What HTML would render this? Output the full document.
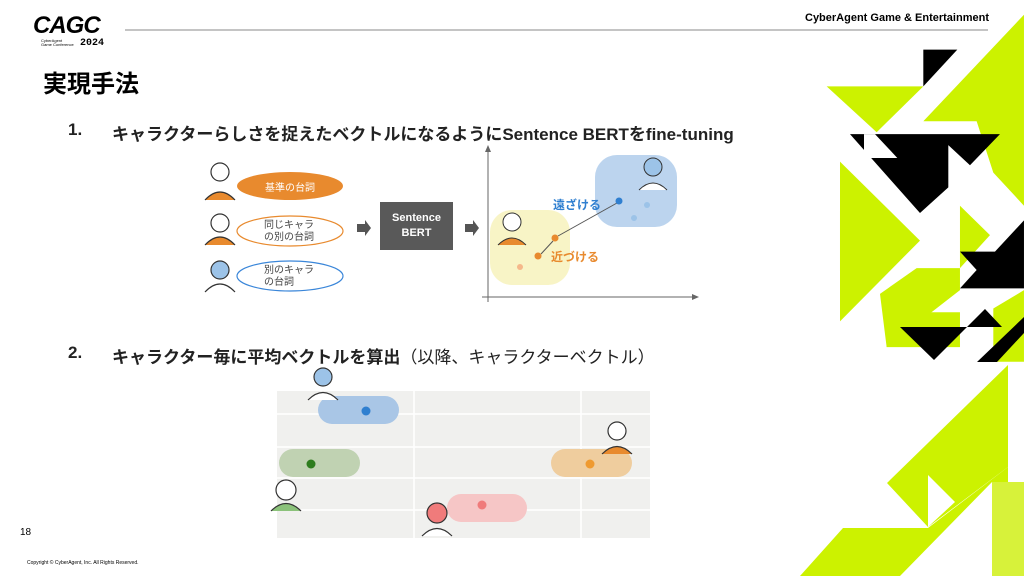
<!DOCTYPE html>
<html><head><meta charset="utf-8"><style>
body{margin:0;width:1024px;height:576px;overflow:hidden;background:#fff;font-family:"Liberation Sans","Noto Sans CJK JP",sans-serif;position:relative}
.a{position:absolute}
</style></head><body>
<svg class="a" style="left:0;top:0" width="1024" height="576">
<g transform="translate(760,0) scale(0.3333,0.3673)">
<polygon points="490,135 592,135 490,235" fill="#000"/>
<polygon points="200,235 490,235 350,360" fill="#ccf200"/>
<polygon points="490,330 792,40 792,560 700,470 650,330" fill="#ccf200"/>
<polygon points="270,365 720,365 630,450 565,395 565,510 480,580" fill="#000"/>
<polygon points="312,365 345,365 412,430 312,430" fill="#fff"/>
<polygon points="240,440 480,655 240,875" fill="#ccf200"/>
<polygon points="600,560 690,640 600,730" fill="#ccf200"/>
<polygon points="360,800 470,730 600,730 600,790 380,945" fill="#ccf200"/>
<polygon points="380,850 600,850 600,945 380,945" fill="#ccf200"/>
<polygon points="600,685 705,685 792,600 792,785 600,785 650,735" fill="#000"/>
<polygon points="700,840 792,790 792,985 700,985" fill="#ccf200"/>
</g>
<polygon points="900,327 967,327 934,360" fill="#000"/>
<polygon points="967,327 985,309 1002,327" fill="#000"/>
<polygon points="977,362 1024,317 1024,333 997,362" fill="#000"/>
<polygon points="887,483 1008,365 1008,467 928,527" fill="#ccf200"/>
<polygon points="800,576 843,528 928,528 1008,467 1008,482 992,482 900,576" fill="#ccf200"/>
<polygon points="928,475 955,502 928,527" fill="#fff"/>
<rect x="992" y="482" width="32" height="94" fill="#d7f23a"/>
<line x1="125" y1="30" x2="988" y2="30" stroke="#888" stroke-width="1"/>
<ellipse cx="290" cy="186" rx="53" ry="14" fill="#e88a2e"/>
<ellipse cx="290" cy="231" rx="53" ry="15" fill="#fff" stroke="#e88a2e" stroke-width="1.2"/>
<ellipse cx="290" cy="276" rx="53" ry="15" fill="#fff" stroke="#3a86d9" stroke-width="1.2"/>
<g fill="#fff" stroke="#333" stroke-width="1.2">
<circle cx="220" cy="172" r="9"/><path d="M205,200 q15,-16 30,0" fill="#e88a2e"/>
<circle cx="220" cy="223" r="9"/><path d="M205,245 q15,-16 30,0" fill="#e88a2e"/>
<circle cx="220" cy="270" r="9" fill="#9cc3e8"/><path d="M205,292 q15,-16 30,0"/>
</g>
<polygon points="357,224 365,224 365,220 371,228 365,236 365,232 357,232" fill="#555"/>
<rect x="380" y="202" width="73" height="48" fill="#595959"/>
<polygon points="465,224 473,224 473,220 479,228 473,236 473,232 465,232" fill="#555"/>
<line x1="488" y1="148" x2="488" y2="302" stroke="#666"/>
<polygon points="488,145 485,152 491,152" fill="#666"/>
<line x1="482" y1="297" x2="695" y2="297" stroke="#666"/>
<polygon points="699,297 692,294 692,300" fill="#666"/>
<rect x="490" y="210" width="80" height="75" rx="22" fill="#f8f4c6"/>
<rect x="595" y="155" width="82" height="72" rx="22" fill="#bcd4ee"/>
<circle cx="512" cy="222" r="9" fill="#fff" stroke="#333"/><path d="M498,245 q14,-14 28,0" fill="#e88a2e" stroke="#333"/>
<circle cx="653" cy="167" r="9" fill="#9cc3e8" stroke="#333"/><path d="M639,190 q14,-14 28,0" fill="#fff" stroke="#333"/>
<line x1="558" y1="236" x2="617" y2="203" stroke="#555"/>
<line x1="541" y1="254" x2="553" y2="241" stroke="#555"/>
<circle cx="555" cy="238" r="3.5" fill="#e88a2e"/><circle cx="538" cy="256" r="3.5" fill="#e88a2e"/>
<circle cx="520" cy="267" r="3" fill="#f5b88a"/>
<circle cx="619" cy="201" r="3.5" fill="#2f7fd0"/><circle cx="647" cy="205" r="3" fill="#9cc3e8"/><circle cx="634" cy="218" r="3" fill="#9cc3e8"/>
<rect x="277" y="391" width="373" height="147" fill="#f0f0ee"/>
<g stroke="#fff" stroke-width="1.5"><line x1="277" y1="414" x2="650" y2="414"/><line x1="277" y1="447" x2="650" y2="447"/><line x1="277" y1="478" x2="650" y2="478"/><line x1="277" y1="510" x2="650" y2="510"/><line x1="414" y1="391" x2="414" y2="538"/><line x1="581" y1="391" x2="581" y2="538"/></g>
<rect x="318" y="396" width="81" height="28" rx="14" fill="#a9c6e6"/><circle cx="366" cy="411" r="4.5" fill="#2f7fd0"/>
<rect x="279" y="449" width="81" height="28" rx="14" fill="#c0d2b2"/><circle cx="311" cy="464" r="4.5" fill="#2e7d1e"/>
<rect x="551" y="449" width="81" height="28" rx="14" fill="#efcd9e"/><circle cx="590" cy="464" r="4.5" fill="#ef9a30"/>
<rect x="447" y="494" width="80" height="28" rx="14" fill="#f6c6c6"/><circle cx="482" cy="505" r="4.5" fill="#f07b7b"/>
<g stroke="#333" stroke-width="1.2">
<circle cx="323" cy="377" r="9" fill="#9cc3e8"/><path d="M308,400 q15,-15 30,0" fill="#fff"/>
<circle cx="617" cy="431" r="9" fill="#fff"/><path d="M602,454 q15,-15 30,0" fill="#e88a2e"/>
<circle cx="286" cy="490" r="10" fill="#fff"/><path d="M271,511 q15,-15 30,0" fill="#8bc27a"/>
<circle cx="437" cy="513" r="10" fill="#f07b7b"/><path d="M422,536 q15,-15 30,0" fill="#fff"/>
</g>
</svg>
<div class="a" style="left:33px;top:12px;font:900 24px 'Liberation Sans',sans-serif;letter-spacing:-1px;font-style:italic">CAGC</div>
<div class="a" style="left:41px;top:39px;font-size:4px;line-height:4px">CyberAgent<br>Game Conference</div>
<div class="a" style="left:80px;top:38px;font:bold 10px 'Liberation Mono',monospace">2024</div>
<div class="a" style="left:805px;top:12px;font-size:11px;font-weight:bold">CyberAgent Game &amp; Entertainment</div>
<div class="a" style="left:43px;top:64px;font-size:24px;font-weight:bold">実現手法</div>
<div class="a" style="left:68px;top:120px;font-size:17px;font-weight:bold;color:#222">1.</div>
<div class="a" style="left:112px;top:120px;font-size:17px;font-weight:bold;color:#222;white-space:nowrap">キャラクターらしさを捉えたベクトルになるようにSentence BERTをfine-tuning</div>
<div class="a" style="left:68px;top:343px;font-size:17px;font-weight:bold;color:#222">2.</div>
<div class="a" style="left:112px;top:343px;font-size:17px;color:#222;white-space:nowrap"><b>キャラクター毎に平均ベクトルを算出</b>（以降、キャラクターベクトル）</div>
<div class="a" style="left:237px;top:179px;width:106px;text-align:center;font-size:10px;color:#fff">基準の台詞</div>
<div class="a" style="left:264px;top:220px;font-size:10px;line-height:12px;color:#444">同じキャラ<br>の別の台詞</div>
<div class="a" style="left:264px;top:265px;font-size:10px;line-height:12px;color:#444">別のキャラ<br>の台詞</div>
<div class="a" style="left:380px;top:211px;width:73px;text-align:center;font-size:11px;line-height:15px;color:#fff;font-weight:bold">Sentence<br>BERT</div>
<div class="a" style="left:553px;top:196px;font-size:12px;font-weight:bold;color:#2f7fd0">遠ざける</div>
<div class="a" style="left:551px;top:248px;font-size:12px;font-weight:bold;color:#e88a2e">近づける</div>
<div class="a" style="left:20px;top:527px;font-size:10px">18</div>
<div class="a" style="left:27px;top:560px;font-size:5px">Copyright © CyberAgent, Inc. All Rights Reserved.</div>
</body></html>
